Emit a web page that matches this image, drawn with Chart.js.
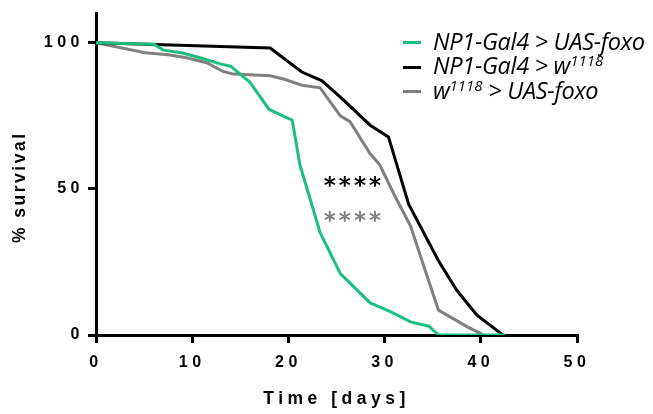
<!DOCTYPE html>
<html>
<head>
<meta charset="utf-8">
<script src="https://cdn.jsdelivr.net/npm/chart.js@4.4.1/dist/chart.umd.min.js"></script>
<style>
  html, body { margin: 0; padding: 0; background: #fff; }
  #wrap { position: relative; width: 653px; height: 414px; }
  #legend { position: absolute; left: 403px; top: 29px; font-family: "Open Sans", Lato, sans-serif; font-style: italic; font-size: 23.5px; letter-spacing: -0.3px; color: #000; }
  #legend div { height: 24.3px; line-height: 24.3px; white-space: nowrap; }
  #legend span.sw { display: inline-block; width: 18px; height: 3px; vertical-align: middle; margin-right: 12px; position: relative; top: -1px; }
  #legend sup { font-size: 15px; vertical-align: 8px; line-height: 0; letter-spacing: 0; }
</style>
</head>
<body>
<div id="wrap">
  <canvas id="survival" width="653" height="414"></canvas>
  <div id="legend">
    <div><span class="sw" style="background:#1cbf80"></span>NP1-Gal4 &gt; UAS-foxo</div>
    <div><span class="sw" style="background:#000"></span>NP1-Gal4 &gt; w<sup>1118</sup></div>
    <div><span class="sw" style="background:#808080"></span>w<sup>1118</sup> &gt; UAS-foxo</div>
  </div>
</div>
<script>
// survival curves, day -> % alive
var foxoDays = [0, 6, 7, 9, 11, 13, 14, 16, 18, 20.4, 21.2, 23.3, 25.4, 28.5, 30.6, 32.7, 34.6, 35.6, 42.5];
var foxoSurv = [100, 99.5, 97.5, 96.5, 94.7, 92.7, 92, 86.5, 77.2, 73.5, 58.2, 35, 21, 11, 8, 4.5, 3, 0, 0];

var wDays = [0, 18.1, 21.4, 23.5, 25.4, 28.5, 30.4, 32.5, 35.6, 37.5, 39.6, 42.3];
var wSurv = [100, 98.2, 90, 87, 81.4, 71.8, 67.8, 44.8, 25.4, 15.3, 6.8, 0];

var ctrlDays = [0, 5.1, 7.5, 9.4, 11.5, 13.2, 14.3, 18.1, 19.5, 21.4, 23.3, 25.4, 26.4, 28.5, 29.5, 31, 32.7, 34, 35.6, 38.6, 40.3];
var ctrlSurv = [100, 96.6, 95.9, 94.9, 93.2, 90.2, 89.3, 88.7, 87.6, 85.5, 84.6, 75, 73, 62, 58.2, 48, 37.3, 24.3, 8.5, 2.8, 0];

var xTicks = [0, 10, 20, 30, 40, 50];
var yTicks = [0, 50, 100];

// significance marks
var starsText = '****';
var starsAt = { x: 26.6, y: [52.5, 40.5] };

function pts(xs, ys) {
  return xs.map(function (x, i) { return { x: x, y: ys[i] }; });
}

// spaced-out axis text like the original figure
var spacing = {
  id: 'spacing',
  beforeDraw: function (chart) {
    Object.values(chart.scales).forEach(function (s) {
      if (s._spaced) return;
      var ctx = chart.ctx;
      var dl = s.drawLabels.bind(s), dt = s.drawTitle.bind(s);
      s.drawLabels = function (a) { ctx.letterSpacing = '4.5px'; dl(a); ctx.letterSpacing = '0px'; };
      s.drawTitle = function (a) {
        ctx.save();
        if (s.axis === 'y') ctx.translate(0, 13);
        ctx.letterSpacing = s.axis === 'x' ? '4.5px' : '2.5px';
        dt(a);
        ctx.restore();
      };
      s._spaced = true;
    });
  }
};

var stars = {
  id: 'stars',
  afterDatasetsDraw: function (chart) {
    var ctx = chart.ctx, x = chart.scales.x, y = chart.scales.y;
    var colors = ['#000', '#808080'];
    ctx.save();
    ctx.font = 'bold 23px "DejaVu Sans"';
    ctx.letterSpacing = '3px';
    ctx.textAlign = 'center';
    ctx.textBaseline = 'alphabetic';
    starsAt.y.forEach(function (v, i) {
      ctx.fillStyle = colors[i];
      ctx.fillText(starsText, x.getPixelForValue(starsAt.x) + 2, y.getPixelForValue(v) + 11);
    });
    ctx.restore();
  }
};

var tickFont = { family: '"Liberation Sans", Arial, sans-serif', size: 16, weight: 'bold' };
var titleFont = { family: '"Liberation Sans", Arial, sans-serif', size: 17.5, weight: 'bold' };

new Chart(document.getElementById('survival').getContext('2d'), {
  type: 'line',
  data: {
    datasets: [{
      label: 'NP1-Gal4 > UAS-foxo',
      data: pts(foxoDays, foxoSurv),
      borderColor: '#1cbf80'
    }, {
      label: 'NP1-Gal4 > w1118',
      data: pts(wDays, wSurv),
      borderColor: '#000'
    }, {
      label: 'w1118 > UAS-foxo',
      data: pts(ctrlDays, ctrlSurv),
      borderColor: '#808080'
    }]
  },
  options: {
    responsive: false,
    animation: false,
    datasets: { line: { borderWidth: 3, pointRadius: 0, tension: 0, fill: false } },
    layout: { padding: { top: 10, right: 76, left: 0, bottom: 0 } },
    plugins: { legend: { display: false }, tooltip: { enabled: false } },
    scales: {
      x: {
        type: 'linear',
        min: 0,
        max: 50,
        afterBuildTicks: function (s) { s.ticks = xTicks.map(function (v) { return { value: v }; }); },
        afterFit: function (s) { s.height = 79; },
        border: { color: '#000', width: 3 },
        grid: { drawOnChartArea: false, color: '#000', lineWidth: 3, tickLength: 8 },
        ticks: { color: '#000', font: tickFont, padding: 10, maxRotation: 0 },
        title: { display: true, text: 'Time [days]', color: '#000', font: titleFont, padding: { top: 0, bottom: 4 }, align: 'center' }
      },
      y: {
        min: 0,
        max: 110,
        afterBuildTicks: function (s) { s.ticks = yTicks.map(function (v) { return { value: v }; }); },
        afterFit: function (s) { s.width = 96; },
        border: { color: '#000', width: 3 },
        grid: { drawOnChartArea: false, color: '#000', lineWidth: 3, tickLength: 8 },
        ticks: { color: '#000', font: tickFont, padding: 4 },
        title: { display: true, text: '% survival', color: '#000', font: titleFont, padding: { top: 10, bottom: 0 } }
      }
    }
  },
  plugins: [spacing, stars]
});
</script>
</body>
</html>
